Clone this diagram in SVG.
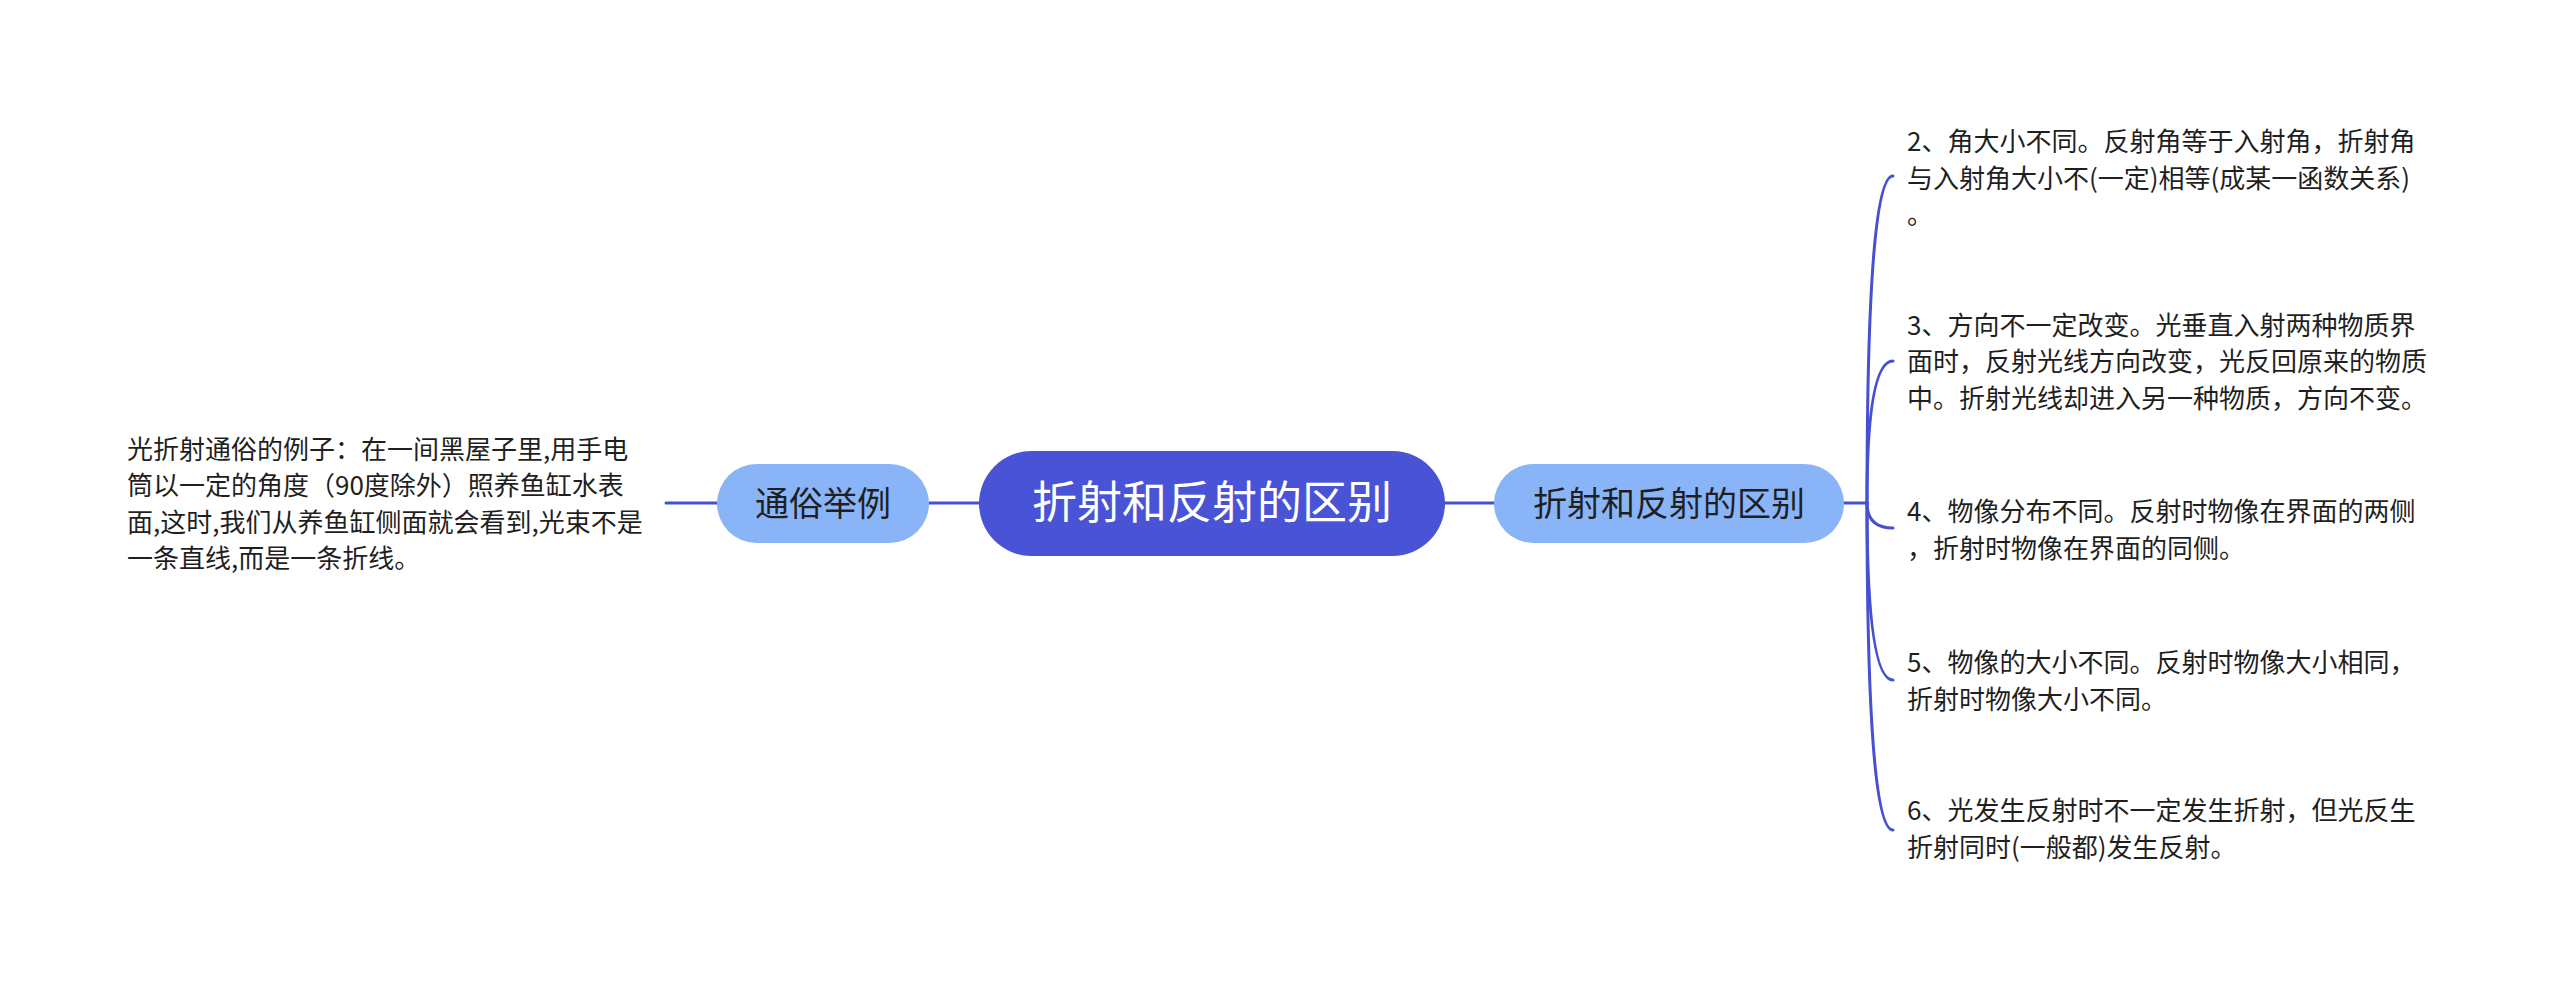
<svg xmlns="http://www.w3.org/2000/svg" width="2560" height="990" viewBox="0 0 2560 990">
<style>
.conn{fill:none;stroke:#4650D2;stroke-width:3;stroke-linecap:round}
.t{font-family:"Noto Sans CJK SC","Noto Sans",sans-serif;font-size:26px;fill:#1f1f1f}
.sub{fill:#8AB4F8}
.subt{font-family:"Noto Sans CJK SC","Noto Sans",sans-serif;font-size:34px;fill:#1f1f1f;text-anchor:middle}
</style>
<rect width="2560" height="990" fill="#ffffff"/>
<g id="connectors">
<path class="conn" d="M666 503 L717 503"/>
<path class="conn" d="M929 503 L979 503"/>
<path class="conn" d="M1445 503 L1494 503"/>
<path class="conn" d="M1844 503 L1867 503"/>
<path class="conn" d="M1867 503 Q1867 176 1893 176"/>
<path class="conn" d="M1867 503 Q1867 361 1893 361"/>
<path class="conn" d="M1867 503 Q1867 528 1893 528"/>
<path class="conn" d="M1867 503 Q1867 680 1893 680"/>
<path class="conn" d="M1867 503 Q1867 830 1893 830"/>
</g>
<g id="root">
<rect x="979" y="451" width="466" height="105" rx="52.5" fill="#4953D6"/>
<text x="1212" y="519" font-family="Noto Sans CJK SC, sans-serif" font-size="45" fill="#ffffff" text-anchor="middle">折射和反射的区别</text>
</g>
<g id="node-left">
<rect class="sub" x="717" y="464" width="212" height="79" rx="39.5"/>
<text class="subt" x="823" y="516">通俗举例</text>
</g>
<g id="node-right">
<rect class="sub" x="1494" y="464" width="350" height="79" rx="39.5"/>
<text class="subt" x="1669" y="516">折射和反射的区别</text>
</g>
<g id="leaf-left">
<text class="t" x="127" y="458.5">光折射通俗的例子：在一间黑屋子里,用手电</text>
<text class="t" x="127" y="495">筒以一定的角度（90度除外）照养鱼缸水表</text>
<text class="t" x="127" y="531.5">面,这时,我们从养鱼缸侧面就会看到,光束不是</text>
<text class="t" x="127" y="568">一条直线,而是一条折线。</text>
</g>
<g id="leaf-2">
<text class="t" x="1907" y="151">2、角大小不同。反射角等于入射角，折射角</text>
<text class="t" x="1907" y="187.5">与入射角大小不(一定)相等(成某一函数关系)</text>
<text class="t" x="1907" y="224">。</text>
</g>
<g id="leaf-3">
<text class="t" x="1907" y="334.5">3、方向不一定改变。光垂直入射两种物质界</text>
<text class="t" x="1907" y="371">面时，反射光线方向改变，光反回原来的物质</text>
<text class="t" x="1907" y="407.5">中。折射光线却进入另一种物质，方向不变。</text>
</g>
<g id="leaf-4">
<text class="t" x="1907" y="521">4、物像分布不同。反射时物像在界面的两侧</text>
<text class="t" x="1907" y="557.5">，折射时物像在界面的同侧。</text>
</g>
<g id="leaf-5">
<text class="t" x="1907" y="672">5、物像的大小不同。反射时物像大小相同，</text>
<text class="t" x="1907" y="708.5">折射时物像大小不同。</text>
</g>
<g id="leaf-6">
<text class="t" x="1907" y="820">6、光发生反射时不一定发生折射，但光反生</text>
<text class="t" x="1907" y="856.5">折射同时(一般都)发生反射。</text>
</g>
</svg>
